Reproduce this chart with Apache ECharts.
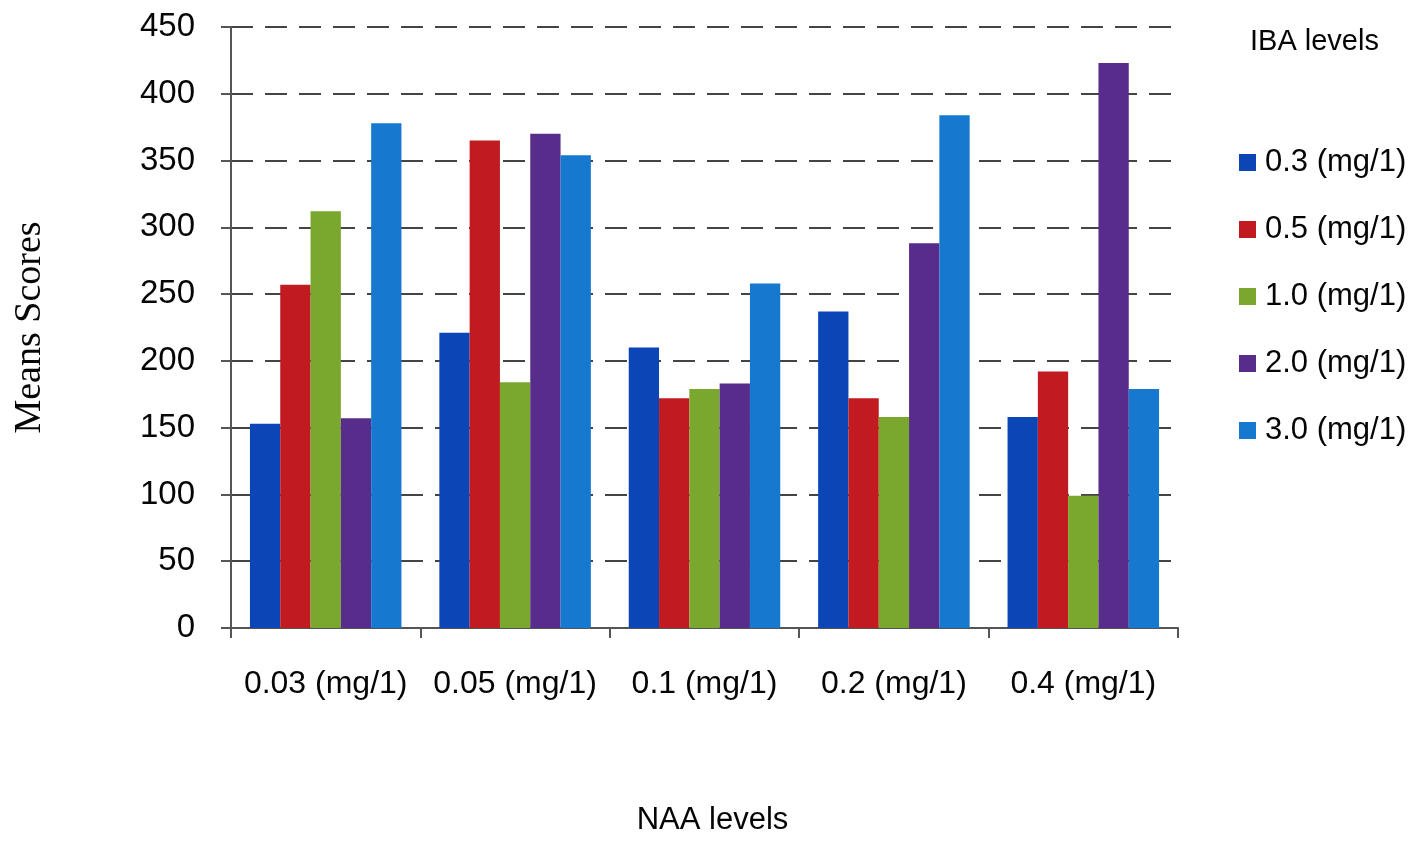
<!DOCTYPE html>
<html>
<head>
<meta charset="utf-8">
<script src="https://cdn.jsdelivr.net/npm/echarts@6/dist/echarts.min.js"></script>
<style>
  html, body { margin: 0; padding: 0; background: #fff; }
  #chart { width: 1412px; height: 842px; }
</style>
</head>
<body>
<div id="chart"></div>
<script>
// NAA levels along the x axis
const categories = ['0.03 (mg/1)', '0.05 (mg/1)', '0.1 (mg/1)', '0.2 (mg/1)', '0.4 (mg/1)'];

// Mean scores for each IBA level
const seriesNames = ['0.3 (mg/1)', '0.5 (mg/1)', '1.0 (mg/1)', '2.0 (mg/1)', '3.0 (mg/1)'];
const iba03 = [153, 221, 210, 237, 158];
const iba05 = [257, 365, 172, 172, 192];
const iba10 = [312, 184, 179, 158, 99];
const iba20 = [157, 370, 183, 288, 423];
const iba30 = [378, 354, 258, 384, 179];

// Y axis ticks
const yTicks = [0, 50, 100, 150, 200, 250, 300, 350, 400, 450];

const colors = ['#0B45B6', '#C11A20', '#7AA82E', '#582C8A', '#1679CF'];
const allValues = [iba03, iba05, iba10, iba20, iba30];

const font = 'Liberation Sans, Arial, sans-serif';
const ink = '#050505';

const chart = echarts.init(document.getElementById('chart'));
chart.setOption({
  backgroundColor: '#ffffff',
  animation: false,
  title: {
    text: 'IBA levels',
    left: 1245,
    top: 22,
    textStyle: { fontFamily: font, fontSize: 29, fontWeight: 'normal', color: ink }
  },
  legend: {
    orient: 'vertical',
    left: 1234,
    top: 141,
    icon: 'rect',
    itemWidth: 17,
    itemHeight: 17,
    itemGap: 34,
    data: seriesNames,
    textStyle: { fontFamily: font, fontSize: 31, lineHeight: 33, color: ink, padding: [0, 0, 0, 4] }
  },
  grid: { left: 231, right: 234, top: 27, bottom: 214, containLabel: false },
  xAxis: {
    type: 'category',
    data: categories,
    boundaryGap: true,
    name: 'NAA levels',
    nameLocation: 'middle',
    nameGap: 177,
    nameTextStyle: { fontFamily: font, fontSize: 31, color: ink, padding: [0, 0, 0, 16] },
    axisLine: { lineStyle: { color: '#555', width: 2 } },
    axisTick: { show: true, interval: 0, length: 10, lineStyle: { color: '#555', width: 2 } },
    axisLabel: { interval: 0, fontFamily: font, fontSize: 32, color: ink, margin: 40 }
  },
  yAxis: {
    type: 'value',
    min: yTicks[0],
    max: yTicks[yTicks.length - 1],
    interval: yTicks[1] - yTicks[0],
    name: 'Means Scores',
    nameLocation: 'middle',
    nameGap: 182,
    nameTextStyle: { fontFamily: 'Liberation Serif, Times New Roman, serif', fontSize: 38, color: ink },
    axisLine: { show: true, lineStyle: { color: '#555', width: 2 } },
    axisTick: { show: true, length: 10, lineStyle: { color: '#555', width: 2 } },
    axisLabel: { fontFamily: font, fontSize: 33, color: ink, margin: 36 },
    splitLine: { show: true, lineStyle: { color: '#444', width: 2, type: [22, 12] } }
  },
  series: seriesNames.map((name, i) => ({
    name,
    type: 'bar',
    data: allValues[i],
    barGap: '0%',
    barCategoryGap: '20%',
    itemStyle: { color: colors[i] }
  }))
});
</script>
</body>
</html>
